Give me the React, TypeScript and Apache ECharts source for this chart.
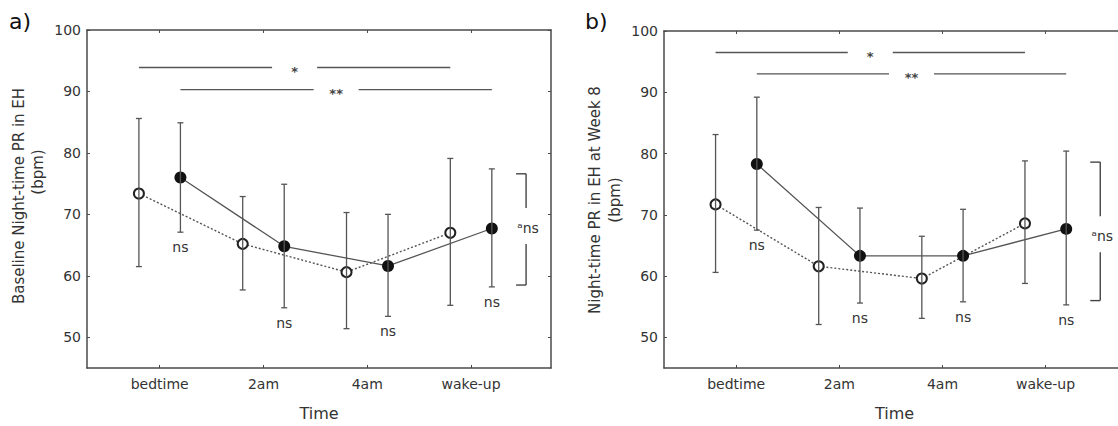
import React, { useEffect, useRef } from "react";
import * as echarts from "echarts";

// ---------- data ----------
const timeLabels = ["bedtime", "2am", "4am", "wake-up"];
const timeTicks = [1, 2, 3, 4];
const yTicks = [50, 60, 70, 80, 90, 100];

// Panel a) Baseline
const aOpenMean = [73.4, 65.2, 60.6, 67.0];
const aOpenHigh = [85.6, 72.9, 70.3, 79.1];
const aOpenLow = [61.5, 57.7, 51.4, 55.2];
const aFilledMean = [76.0, 64.8, 61.6, 67.7];
const aFilledHigh = [84.9, 74.9, 70.0, 77.4];
const aFilledLow = [67.1, 54.8, 53.4, 58.2];
const aSigY = [93.9, 90.3];
const aBracket = [58.5, 76.6];
const aBracketLabelY = 67.8;

// Panel b) Week 8
const bOpenMean = [71.7, 61.6, 59.6, 68.6];
const bOpenHigh = [83.1, 71.2, 66.5, 78.8];
const bOpenLow = [60.6, 52.1, 53.1, 58.8];
const bFilledMean = [78.3, 63.3, 63.3, 67.7];
const bFilledHigh = [89.2, 71.1, 70.9, 80.4];
const bFilledLow = [67.5, 55.6, 55.8, 55.3];
const bSigY = [96.5, 93.0];
const bBracket = [56.0, 78.6];
const bBracketLabelY = 66.5;

const sigLabels = ["*", "**"];
const nsLabel = "ns";
const bracketLabel = "ᵃns";

// ---------- style / layout constants ----------
const FONT = '"DejaVu Sans", Verdana, sans-serif';
const AXIS = "#4a4a4a";
const TEXT = "#333";
const LINE = "#555";
const OPEN_OFF = -0.2;
const FILLED_OFF = 0.2;
const X_MIN = 0.3;
const X_MAX = 4.77;
const Y_MIN = 45;
const Y_MAX = 100;
const BRACKET_X = 4.53;

function xAxesFor(gridIndex: number) {
  const line = { show: true, onZero: false, lineStyle: { color: AXIS, width: 1.5 } };
  return [
    {
      type: "value",
      gridIndex,
      min: X_MIN,
      max: X_MAX,
      position: "bottom",
      axisLine: line,
      axisTick: { show: true, inside: true, length: 3, customValues: timeTicks, lineStyle: { color: AXIS } },
      axisLabel: {
        customValues: timeTicks,
        formatter: (v: number) => timeLabels[Math.round(v) - 1],
        fontSize: 14,
        color: TEXT,
        fontFamily: FONT,
        margin: 9,
      },
      splitLine: { show: false },
      name: "Time",
      nameLocation: "middle",
      nameGap: 37,
      nameTextStyle: { fontSize: 16, color: TEXT, fontFamily: FONT },
    },
    {
      type: "value",
      gridIndex,
      min: X_MIN,
      max: X_MAX,
      position: "top",
      axisLine: line,
      axisTick: { show: true, inside: true, length: 3, customValues: timeTicks, lineStyle: { color: AXIS } },
      axisLabel: { show: false },
      splitLine: { show: false },
    },
  ];
}

function yAxesFor(gridIndex: number) {
  const line = { show: true, onZero: false, lineStyle: { color: AXIS, width: 1.5 } };
  return [
    {
      type: "value",
      gridIndex,
      min: Y_MIN,
      max: Y_MAX,
      position: "left",
      axisLine: line,
      axisTick: { show: true, inside: true, length: 3, customValues: yTicks, lineStyle: { color: AXIS } },
      axisLabel: { customValues: yTicks, fontSize: 14, color: TEXT, fontFamily: FONT, margin: 6 },
      splitLine: { show: false },
    },
    {
      type: "value",
      gridIndex,
      min: Y_MIN,
      max: Y_MAX,
      position: "right",
      axisLine: line,
      axisTick: { show: true, inside: true, length: 3, customValues: yTicks, lineStyle: { color: AXIS } },
      axisLabel: { show: false },
      splitLine: { show: false },
    },
  ];
}

function seriesFor(
  xIdx: number,
  yIdx: number,
  openMean: number[],
  openHigh: number[],
  openLow: number[],
  filledMean: number[],
  filledHigh: number[],
  filledLow: number[],
  sigY: number[],
  bracket: number[],
  bracketLabelY: number
) {
  const ox = (i: number) => i + 1 + OPEN_OFF;
  const fx = (i: number) => i + 1 + FILLED_OFF;
  const errData = [
    ...openMean.map((_, i) => [ox(i), openLow[i], openHigh[i]]),
    ...filledMean.map((_, i) => [fx(i), filledLow[i], filledHigh[i]]),
  ];
  const lineStyle = { stroke: LINE, lineWidth: 1.3 };
  return [
    {
      type: "line",
      xAxisIndex: xIdx,
      yAxisIndex: yIdx,
      data: openMean.map((v, i) => [ox(i), v]),
      lineStyle: { color: LINE, width: 1.4, type: [2, 2] },
      symbol: "circle",
      symbolSize: 10,
      itemStyle: { color: "#fff", borderColor: "#222", borderWidth: 2 },
      z: 2,
    },
    {
      type: "line",
      xAxisIndex: xIdx,
      yAxisIndex: yIdx,
      data: filledMean.map((v, i) => [fx(i), v]),
      lineStyle: { color: LINE, width: 1.3 },
      symbol: "circle",
      symbolSize: 12,
      itemStyle: { color: "#111", borderColor: "#111", borderWidth: 0 },
      z: 2,
    },
    {
      type: "custom",
      xAxisIndex: xIdx,
      yAxisIndex: yIdx,
      z: 3,
      data: errData,
      renderItem: (params: any, api: any) => {
        const x = api.value(0);
        const lo = api.coord([x, api.value(1)]);
        const hi = api.coord([x, api.value(2)]);
        const cap = 3;
        return {
          type: "group",
          children: [
            { type: "line", shape: { x1: lo[0], y1: lo[1], x2: hi[0], y2: hi[1] }, style: lineStyle },
            { type: "line", shape: { x1: hi[0] - cap, y1: hi[1], x2: hi[0] + cap, y2: hi[1] }, style: lineStyle },
            { type: "line", shape: { x1: lo[0] - cap, y1: lo[1], x2: lo[0] + cap, y2: lo[1] }, style: lineStyle },
          ],
        };
      },
    },
    {
      // "ns" under each filled-marker error bar
      type: "custom",
      xAxisIndex: xIdx,
      yAxisIndex: yIdx,
      z: 3,
      data: filledLow.map((v, i) => [fx(i), v]),
      renderItem: (params: any, api: any) => {
        const p = api.coord([api.value(0), api.value(1)]);
        return {
          type: "text",
          x: p[0],
          y: p[1] + 15,
          style: { text: nsLabel, fontSize: 14, fontFamily: FONT, fill: TEXT, align: "center", verticalAlign: "middle" },
        };
      },
    },
    {
      // significance lines
      type: "custom",
      xAxisIndex: xIdx,
      yAxisIndex: yIdx,
      z: 3,
      data: [
        [ox(0), ox(3), sigY[0], 0],
        [fx(0), fx(3), sigY[1], 1],
      ],
      renderItem: (params: any, api: any) => {
        const p1 = api.coord([api.value(0), api.value(2)]);
        const p2 = api.coord([api.value(1), api.value(2)]);
        const mid = (p1[0] + p2[0]) / 2;
        const gap = 22.5;
        const st = { stroke: LINE, lineWidth: 1.4 };
        return {
          type: "group",
          children: [
            { type: "line", shape: { x1: p1[0], y1: p1[1], x2: mid - gap, y2: p1[1] }, style: st },
            { type: "line", shape: { x1: mid + gap, y1: p1[1], x2: p2[0], y2: p1[1] }, style: st },
            {
              type: "text",
              x: mid,
              y: p1[1] + 4,
              style: {
                text: sigLabels[api.value(3)],
                fontSize: 13,
                fontWeight: "bold",
                fontFamily: FONT,
                fill: "#444",
                align: "center",
                verticalAlign: "middle",
              },
            },
          ],
        };
      },
    },
    {
      // bracket with "ᵃns"
      type: "custom",
      xAxisIndex: xIdx,
      yAxisIndex: yIdx,
      z: 3,
      data: [[BRACKET_X, bracket[0], bracket[1], bracketLabelY]],
      renderItem: (params: any, api: any) => {
        const bot = api.coord([api.value(0), api.value(1)]);
        const top = api.coord([api.value(0), api.value(2)]);
        const lab = api.coord([api.value(0), api.value(3)]);
        const st = { stroke: "#444", lineWidth: 1.4 };
        const tick = 10;
        return {
          type: "group",
          children: [
            { type: "line", shape: { x1: top[0] - tick, y1: top[1], x2: top[0], y2: top[1] }, style: st },
            { type: "line", shape: { x1: top[0], y1: top[1], x2: top[0], y2: lab[1] - 20 }, style: st },
            { type: "line", shape: { x1: bot[0], y1: lab[1] + 16, x2: bot[0], y2: bot[1] }, style: st },
            { type: "line", shape: { x1: bot[0] - tick, y1: bot[1], x2: bot[0], y2: bot[1] }, style: st },
            {
              type: "text",
              x: lab[0] + 2,
              y: lab[1],
              style: { text: bracketLabel, fontSize: 14, fontFamily: FONT, fill: TEXT, align: "center", verticalAlign: "middle" },
            },
          ],
        };
      },
    },
  ];
}

export default function App() {
  const ref = useRef<HTMLDivElement>(null);

  useEffect(() => {
    if (!ref.current) return;
    const chart = echarts.init(ref.current, undefined, { renderer: "svg" });
    const titleStyle = { fontSize: 15, fontFamily: FONT, fill: TEXT, align: "center", verticalAlign: "middle" };
    chart.setOption({
      animation: false,
      backgroundColor: "#fff",
      grid: [
        { left: 87, top: 30, width: 464, height: 342 },
        { left: 664, top: 31, width: 461, height: 340 },
      ],
      xAxis: [...xAxesFor(0), ...xAxesFor(1)],
      yAxis: [...yAxesFor(0), ...yAxesFor(1)],
      series: [
        ...seriesFor(0, 0, aOpenMean, aOpenHigh, aOpenLow, aFilledMean, aFilledHigh, aFilledLow, aSigY, aBracket, aBracketLabelY),
        ...seriesFor(2, 2, bOpenMean, bOpenHigh, bOpenLow, bFilledMean, bFilledHigh, bFilledLow, bSigY, bBracket, bBracketLabelY),
      ],
      graphic: [
        { type: "text", x: 9, y: 21, style: { text: "a)", fontSize: 22, fontFamily: FONT, fill: "#111", align: "left", verticalAlign: "middle" } },
        { type: "text", x: 585, y: 21, style: { text: "b)", fontSize: 22, fontFamily: FONT, fill: "#111", align: "left", verticalAlign: "middle" } },
        { type: "text", x: 19, y: 196, rotation: Math.PI / 2, style: { ...titleStyle, text: "Baseline Night-time PR in EH" } },
        { type: "text", x: 38, y: 172, rotation: Math.PI / 2, style: { ...titleStyle, text: "(bpm)" } },
        { type: "text", x: 595, y: 200, rotation: Math.PI / 2, style: { ...titleStyle, text: "Night-time PR in EH at Week 8" } },
        { type: "text", x: 615, y: 200, rotation: Math.PI / 2, style: { ...titleStyle, text: "(bpm)" } },
      ],
    });
    return () => chart.dispose();
  }, []);

  return (
    <div style={{ position: "fixed", left: 0, top: 0, width: 1118, height: 426, overflow: "hidden", background: "#fff" }}>
      <div ref={ref} style={{ width: 1140, height: 426 }} />
    </div>
  );
}
